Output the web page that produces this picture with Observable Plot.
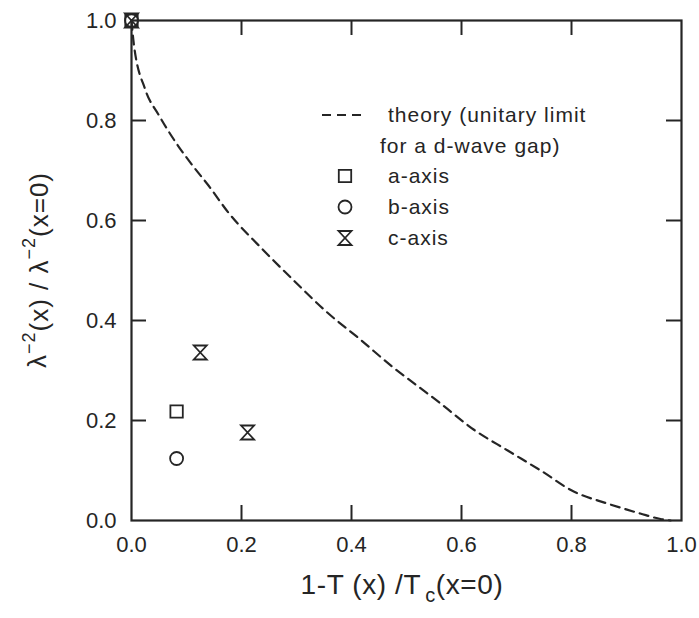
<!DOCTYPE html>
<html><head><meta charset="utf-8">
<script src="https://cdn.jsdelivr.net/npm/d3@7"></script>
<script src="https://cdn.jsdelivr.net/npm/@observablehq/plot@0.6"></script>
<style>
body{margin:0;background:#fff}
g[aria-label="x-axis tick label"], g[aria-label="y-axis tick label"],
g[aria-label="x-axis tick label"] text, g[aria-label="y-axis tick label"] text { font-size: 22px; }
</style>
</head><body><div id="chart"></div>
<script>
// ---- data ----
const xTicks = [0, 0.2, 0.4, 0.6, 0.8, 1.0];
const yTicks = [0, 0.2, 0.4, 0.6, 0.8, 1.0];
const theoryX = [0, 0.004, 0.025, 0.049, 0.08, 0.111, 0.14, 0.176, 0.235, 0.295, 0.356, 0.416, 0.476, 0.502, 0.562, 0.622, 0.684, 0.744, 0.804, 0.865, 0.925, 0.962, 0.98];
const theoryY = [1, 0.955, 0.862, 0.812, 0.757, 0.71, 0.67, 0.616, 0.546, 0.48, 0.416, 0.362, 0.306, 0.284, 0.234, 0.182, 0.14, 0.1, 0.058, 0.034, 0.014, 0.003, 0];
const aAxisX = [0, 0.082];
const aAxisY = [1, 0.218];
const bAxisX = [0, 0.082];
const bAxisY = [1, 0.124];
const cAxisX = [0, 0.125, 0.211];
const cAxisY = [1, 0.336, 0.176];
const legendLabels = ["theory (unitary limit", "for a d-wave gap)", "a-axis", "b-axis", "c-axis"];

// ---- build ----
const ink = "#252525";
const W = 699, H = 618, mL = 131, mR = 18, mT = 20, mB = 98;
const innerW = W - mL - mR, innerH = H - mT - mB;
const tickLen = 15;

const hourglass = {
  draw(ctx, size) {
    const r = Math.sqrt(size / Math.PI);
    const w = r * 0.93, h = r;
    ctx.moveTo(-w, -h); ctx.lineTo(w, -h); ctx.lineTo(-w, h); ctx.lineTo(w, h); ctx.closePath();
  }
};

const theory = theoryX.map((x, i) => ({x, y: theoryY[i]}));
const pts = (xs, ys) => xs.map((x, i) => ({x, y: ys[i]}));
const inner = xTicks.slice(1, -1);
const innerY = yTicks.slice(1, -1);
const fmt = d3.format(".1f");
const ff = "'Liberation Sans', Arial, sans-serif";

const plot = Plot.plot({
  width: W, height: H,
  marginLeft: mL, marginRight: mR, marginTop: mT, marginBottom: mB,
  x: {domain: [0, 1]},
  y: {domain: [0, 1]},
  style: {fontFamily: ff, fontSize: "22px", color: ink, background: "#fff", overflow: "visible"},
  marks: [
    Plot.axisX(xTicks, {tickSize: 0, tickPadding: 16, tickFormat: fmt, label: null}),
    Plot.axisY(yTicks, {tickSize: 0, tickPadding: 15, tickFormat: fmt, label: null}),
    // inward ticks on all four sides
    Plot.ruleX(inner, {x: d => d, y1: 0, y2: tickLen / innerH, stroke: ink, strokeWidth: 2}),
    Plot.ruleX(inner, {x: d => d, y1: 1, y2: 1 - tickLen / innerH, stroke: ink, strokeWidth: 2}),
    Plot.ruleY(innerY, {y: d => d, x1: 0, x2: tickLen / innerW, stroke: ink, strokeWidth: 2}),
    Plot.ruleY(innerY, {y: d => d, x1: 1, x2: 1 - tickLen / innerW, stroke: ink, strokeWidth: 2}),
    Plot.line(theory, {x: "x", y: "y", curve: "monotone-x", stroke: ink, strokeWidth: 2.2, strokeDasharray: "9,6"}),
    Plot.dot(pts(aAxisX, aAxisY), {x: "x", y: "y", symbol: "square", r: 7, stroke: ink, strokeWidth: 1.8, fill: "none"}),
    Plot.dot(pts(bAxisX, bAxisY), {x: "x", y: "y", symbol: "circle", r: 6.5, stroke: ink, strokeWidth: 1.8, fill: "none"}),
    Plot.dot(pts(cAxisX, cAxisY), {x: "x", y: "y", symbol: hourglass, r: 7, stroke: ink, strokeWidth: 1.8, fill: "none"}),
    Plot.frame({stroke: ink, strokeWidth: 2.2})
  ]
});
document.getElementById("chart").appendChild(plot);

// ---- titles and legend ----
const svg = d3.select(plot);

// x title
const xt = svg.append("text").attr("x", 402).attr("y", 594).attr("text-anchor", "middle")
  .attr("font-family", ff).attr("font-size", 28).attr("letter-spacing", 0.6).attr("fill", ink);
xt.append("tspan").text("1-T (x) /T");
xt.append("tspan").attr("font-size", 20).attr("dx", 4).attr("dy", 8).text("c");
xt.append("tspan").attr("dy", -8).text("(x=0)");

// y title
const yt = svg.append("text").attr("transform", "translate(46,270) rotate(-90)").attr("text-anchor", "middle")
  .attr("font-family", ff).attr("font-size", 26).attr("letter-spacing", 1).attr("fill", ink);
yt.append("tspan").text("λ");
yt.append("tspan").attr("font-size", 18).attr("dy", -11).text("−2");
yt.append("tspan").attr("dy", 13).text("(x) / λ");
yt.append("tspan").attr("font-size", 18).attr("dy", -13).text("−2");
yt.append("tspan").attr("dy", 13).text("(x=0)");

// legend
const lg = svg.append("g").attr("font-family", ff).attr("font-size", 21).attr("letter-spacing", 1)
  .attr("text-anchor", "start").attr("fill", ink);
lg.append("line").attr("x1", 322).attr("x2", 367).attr("y1", 115).attr("y2", 115)
  .attr("stroke", ink).attr("stroke-width", 2.2).attr("stroke-dasharray", "9,6");
lg.append("text").attr("x", 388).attr("y", 115).attr("dy", "0.35em").text(legendLabels[0]);
lg.append("text").attr("x", 380).attr("y", 146).attr("dy", "0.35em").text(legendLabels[1]);
const syms = [d3.symbolSquare, d3.symbolCircle, hourglass];
const rs = [7, 6.5, 7];
const ys = [176, 207, 238];
syms.forEach((s, i) => {
  lg.append("path").attr("transform", `translate(345,${ys[i]})`)
    .attr("d", d3.symbol(s, Math.PI * rs[i] * rs[i])())
    .attr("fill", "none").attr("stroke", ink).attr("stroke-width", 1.8);
  lg.append("text").attr("x", 388).attr("y", ys[i]).attr("dy", "0.35em").text(legendLabels[i + 2]);
});
</script></body></html>
